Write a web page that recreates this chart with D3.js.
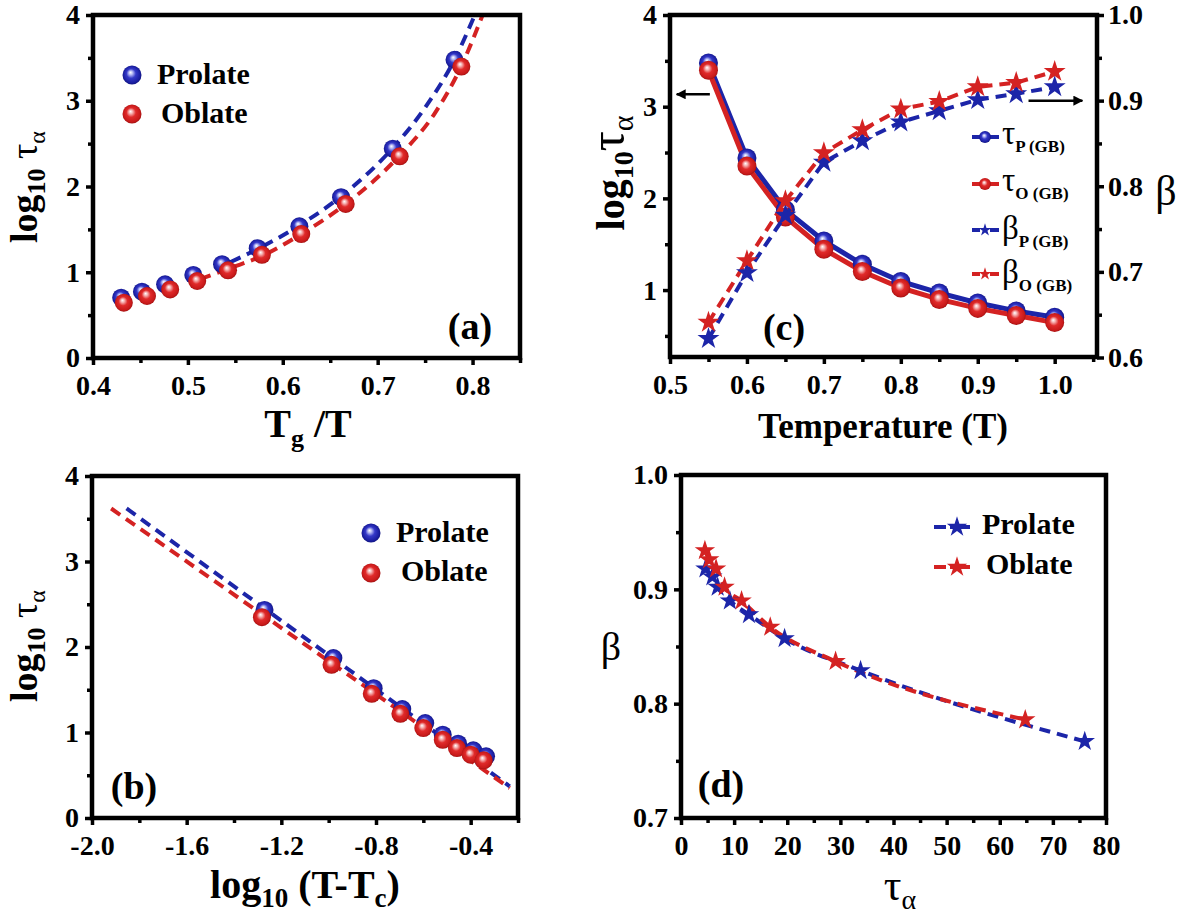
<!DOCTYPE html>
<html><head><meta charset="utf-8">
<script src="https://cdn.jsdelivr.net/npm/d3@7"></script>
<style>
body{margin:0;background:#fff}
text{font-family:"Liberation Serif","Times New Roman",serif;fill:#000}
</style>
</head><body>
<svg id="chart" width="1190" height="917"></svg>
<script>
// ---------------- DATA ----------------
// panel (a): log10 tau vs Tg/T
const tgT_P = [0.4297, 0.4516, 0.476, 0.5057, 0.536, 0.5736, 0.6175, 0.6614, 0.7159, 0.781];
const logTau_P = [0.703, 0.773, 0.859, 0.969, 1.094, 1.281, 1.535, 1.875, 2.441, 3.477];
const tgT_O = [0.4325, 0.4569, 0.4813, 0.5098, 0.5423, 0.578, 0.6195, 0.6663, 0.7232, 0.7882];
const logTau_O = [0.645, 0.723, 0.800, 0.898, 1.023, 1.203, 1.445, 1.797, 2.352, 3.398];
const fitA_P_x = [0.545, 0.575, 0.618, 0.662, 0.716, 0.75, 0.781, 0.8024];
const fitA_P_y = [1.12, 1.28, 1.55, 1.89, 2.45, 2.92, 3.48, 4.0];
const fitA_O_x = [0.513, 0.545, 0.58, 0.62, 0.667, 0.723, 0.76, 0.788, 0.8106];
const fitA_O_y = [0.92, 1.05, 1.20, 1.45, 1.80, 2.36, 2.85, 3.40, 4.0];

// panel (b): log10 tau vs log10(T-Tc)
const logTTc_P = [-1.271, -0.980, -0.810, -0.689, -0.592, -0.518, -0.453, -0.389, -0.335];
const logTauB_P = [2.434, 1.870, 1.519, 1.274, 1.110, 0.974, 0.869, 0.791, 0.721];
const logTTc_O = [-1.282, -0.988, -0.818, -0.697, -0.600, -0.518, -0.458, -0.400, -0.345];
const logTauB_O = [2.349, 1.792, 1.453, 1.219, 1.052, 0.915, 0.818, 0.740, 0.674];
const fitB_P_x = [-1.854, -0.235];
const fitB_P_y = [3.62, 0.37];
const fitB_O_x = [-1.919, -0.235];
const fitB_O_y = [3.62, 0.35];

// panel (c): tau and beta vs temperature
const temps = [0.55, 0.60, 0.65, 0.70, 0.75, 0.80, 0.85, 0.90, 0.95, 1.00];
const logTauC_P = [3.477, 2.441, 1.875, 1.535, 1.281, 1.094, 0.969, 0.859, 0.773, 0.703];
const logTauC_O = [3.398, 2.352, 1.797, 1.445, 1.203, 1.023, 0.898, 0.800, 0.723, 0.645];
const betaC_P = [0.622, 0.699, 0.766, 0.828, 0.853, 0.875, 0.888, 0.901, 0.908, 0.916];
const betaC_O = [0.641, 0.713, 0.783, 0.839, 0.866, 0.890, 0.899, 0.916, 0.921, 0.934];

// panel (d): beta vs tau
const tauD_P = [4.6, 5.9, 6.9, 9.2, 12.8, 19.5, 33.8, 76.0];
const betaD_P = [0.918, 0.911, 0.902, 0.890, 0.878, 0.857, 0.829, 0.767];
const tauD_O = [4.5, 5.3, 6.6, 8.2, 11.4, 16.8, 29.1, 64.8];
const betaD_O = [0.934, 0.926, 0.918, 0.902, 0.890, 0.867, 0.837, 0.786];

// tick values
const ticksA_x = [0.4, 0.5, 0.6, 0.7, 0.8], ticksA_xm = [0.45, 0.55, 0.65, 0.75, 0.85];
const ticksLog_y = [0, 1, 2, 3, 4], ticksLog_ym = [0.5, 1.5, 2.5, 3.5];
const ticksB_x = [-2.0, -1.6, -1.2, -0.8, -0.4], ticksB_xm = [-1.8, -1.4, -1.0, -0.6, -0.2];
const ticksC_x = [0.5, 0.6, 0.7, 0.8, 0.9, 1.0], ticksC_xm = [0.55, 0.65, 0.75, 0.85, 0.95, 1.05];
const ticksC_yl = [1, 2, 3, 4], ticksC_ylm = [0.5, 1.5, 2.5, 3.5];
const ticksC_yr = [0.6, 0.7, 0.8, 0.9, 1.0], ticksC_yrm = [0.65, 0.75, 0.85, 0.95];
const ticksD_x = [0, 10, 20, 30, 40, 50, 60, 70, 80], ticksD_xm = [5, 15, 25, 35, 45, 55, 65, 75];
const ticksD_y = [0.7, 0.8, 0.9, 1.0], ticksD_ym = [0.75, 0.85, 0.95];

// ---------------- STYLE ----------------
const BLUE = "#1c25a8", RED = "#d42222";
const svg = d3.select("#chart");
svg.append("rect").attr("width", 1190).attr("height", 917).attr("fill", "#fff");
const defs = svg.append("defs");

function sphereGrad(id, stops) {
  const g = defs.append("radialGradient").attr("id", id)
    .attr("cx", "0.5").attr("cy", "0.5").attr("r", "0.55").attr("fx", "0.42").attr("fy", "0.36");
  stops.forEach(s => g.append("stop").attr("offset", s[0]).attr("stop-color", s[1]));
}
sphereGrad("gB", [["0%", "#ffffff"], ["18%", "#b8bcf4"], ["45%", "#3438c8"], ["80%", "#1a1ea0"], ["100%", "#0d1070"]]);
sphereGrad("gR", [["0%", "#ffffff"], ["18%", "#f6b4b4"], ["45%", "#e02a2a"], ["80%", "#c81a1a"], ["100%", "#8c0c0c"]]);

defs.append("marker").attr("id", "arrow").attr("viewBox", "0 0 10 10").attr("refX", 9).attr("refY", 5)
  .attr("markerWidth", 4).attr("markerHeight", 4).attr("orient", "auto-start-reverse")
  .append("path").attr("d", "M0,0 L10,5 L0,10 Z").attr("fill", "#000");

const fmt1 = d => d.toFixed(1);
const fmt0 = d => String(d);
const B = sel => sel.style("font-weight", "bold");
const N = sel => sel.style("font-weight", "normal");

function styleAxis(sel) {
  sel.select(".domain").remove();
  sel.selectAll("line").attr("stroke", "#000").attr("stroke-width", 3.5);
  sel.selectAll("text").attr("font-size", 28).attr("font-family", "Liberation Serif")
    .style("font-weight", "bold").attr("fill", "#000");
}
function frame(p) {
  const g = svg.append("g");
  const x = d3.scaleLinear().domain(p.xd).range([p.l, p.r]);
  const y = d3.scaleLinear().domain(p.yd).range([p.b, p.t]);
  const clipId = "clip" + p.id;
  defs.append("clipPath").attr("id", clipId).append("rect")
    .attr("x", p.l).attr("y", p.t).attr("width", p.r - p.l).attr("height", p.b - p.t);
  g.append("g").attr("transform", `translate(0,${p.b})`)
    .call(d3.axisBottom(x).tickValues(p.xt).tickFormat(p.xf).tickSize(7).tickPadding(10)).call(styleAxis);
  g.append("g").attr("transform", `translate(0,${p.b})`)
    .call(d3.axisBottom(x).tickValues(p.xm).tickFormat("").tickSize(5)).call(styleAxis);
  g.append("g").attr("transform", `translate(${p.l},0)`)
    .call(d3.axisLeft(y).tickValues(p.yt).tickFormat(p.yf).tickSize(7).tickPadding(6)).call(styleAxis);
  g.append("g").attr("transform", `translate(${p.l},0)`)
    .call(d3.axisLeft(y).tickValues(p.ym).tickFormat("").tickSize(5)).call(styleAxis);
  return {g, x, y, clipId};
}
function drawBox(p) {
  svg.append("rect").attr("x", p.l).attr("y", p.t).attr("width", p.r - p.l).attr("height", p.b - p.t)
    .attr("fill", "none").attr("stroke", "#000").attr("stroke-width", 4.5);
}
function dashed(g, x, y, xs, ys, color, clipId, curve) {
  g.append("path").datum(xs.map((v, i) => [v, ys[i]]))
    .attr("clip-path", clipId ? `url(#${clipId})` : null)
    .attr("d", d3.line().x(d => x(d[0])).y(d => y(d[1])).curve(curve || d3.curveLinear))
    .attr("fill", "none").attr("stroke", color).attr("stroke-width", 4).attr("stroke-dasharray", "11,7");
}
function spheres(g, x, y, xs, ys, grad, r) {
  g.selectAll(null).data(xs.map((v, i) => [v, ys[i]])).enter().append("circle")
    .attr("cx", d => x(d[0])).attr("cy", d => y(d[1])).attr("r", r).attr("fill", `url(#${grad})`);
}
function stars(g, x, y, xs, ys, color, size) {
  g.selectAll(null).data(xs.map((v, i) => [v, ys[i]])).enter().append("path")
    .attr("transform", d => `translate(${x(d[0])},${y(d[1])})`)
    .attr("d", d3.symbol().type(d3.symbolStar).size(size)()).attr("fill", color);
}
function rich(parent, x, y, parts, opts) {
  opts = opts || {};
  const t = parent.append("text").attr("x", x).attr("y", y)
    .attr("text-anchor", opts.anchor || "start");
  if (opts.rotate) t.attr("transform", `rotate(-90,${x},${y})`);
  parts.forEach(p => {
    const ts = t.append("tspan").attr("font-size", p.s).text(p.t)
      .style("font-weight", p.bold === false ? "normal" : "bold");
    if (p.dy) ts.attr("dy", p.dy);
  });
  return t;
}
function label(parent, x, y, txt, size, anchor, weight) {
  return parent.append("text").attr("x", x).attr("y", y).attr("font-size", size)
    .attr("text-anchor", anchor || "start").style("font-weight", weight || "bold").text(txt);
}

// ---------------- PANEL (a) ----------------
const pA = {id: "a", l: 93, r: 520, t: 15, b: 358, xd: [0.4, 0.85], yd: [0, 4],
  xt: ticksA_x, xm: ticksA_xm, yt: ticksLog_y, ym: ticksLog_ym, xf: fmt1, yf: fmt0};
{
  const {g, x, y, clipId} = frame(pA);
  dashed(g, x, y, fitA_P_x, fitA_P_y, BLUE, clipId, d3.curveMonotoneX);
  dashed(g, x, y, fitA_O_x, fitA_O_y, RED, clipId, d3.curveMonotoneX);
  spheres(g, x, y, tgT_P, logTau_P, "gB", 9);
  spheres(g, x, y, tgT_O, logTau_O, "gR", 9);
  drawBox(pA);
  g.append("circle").attr("cx", 132).attr("cy", 75).attr("r", 9.5).attr("fill", "url(#gB)");
  g.append("circle").attr("cx", 132).attr("cy", 114).attr("r", 9.5).attr("fill", "url(#gR)");
  label(g, 157, 84, "Prolate", 30);
  label(g, 161, 123, "Oblate", 30);
  label(g, 470, 339, "(a)", 38, "middle");
  rich(svg, 308, 437, [{t: "T", s: 40}, {t: "g", s: 26, dy: 10}, {t: " /T", s: 40, dy: -10}], {anchor: "middle"});
  rich(svg, 37, 187, [{t: "log", s: 38}, {t: "10", s: 26, dy: 8}, {t: " τ", s: 38, dy: -8, bold: false}, {t: "α", s: 24, dy: 8, bold: false}], {anchor: "middle", rotate: true});
}

// ---------------- PANEL (b) ----------------
const pB = {id: "b", l: 92, r: 518, t: 476, b: 818, xd: [-2.0, -0.2], yd: [0, 4],
  xt: ticksB_x, xm: ticksB_xm, yt: ticksLog_y, ym: ticksLog_ym, xf: fmt1, yf: fmt0};
{
  const {g, x, y, clipId} = frame(pB);
  dashed(g, x, y, fitB_P_x, fitB_P_y, BLUE, clipId);
  dashed(g, x, y, fitB_O_x, fitB_O_y, RED, clipId);
  spheres(g, x, y, logTTc_P, logTauB_P, "gB", 9);
  spheres(g, x, y, logTTc_O, logTauB_O, "gR", 9);
  drawBox(pB);
  g.append("circle").attr("cx", 371).attr("cy", 533).attr("r", 9.5).attr("fill", "url(#gB)");
  g.append("circle").attr("cx", 371).attr("cy", 573).attr("r", 9.5).attr("fill", "url(#gR)");
  label(g, 396, 542, "Prolate", 30);
  label(g, 401, 581, "Oblate", 30);
  label(g, 134, 799, "(b)", 38, "middle");
  rich(svg, 305, 898, [{t: "log", s: 40}, {t: "10", s: 27, dy: 9}, {t: " (T-T", s: 40, dy: -9}, {t: "c", s: 27, dy: 9}, {t: ")", s: 40, dy: -9}], {anchor: "middle"});
  rich(svg, 37, 646, [{t: "log", s: 38}, {t: "10", s: 26, dy: 8}, {t: " τ", s: 38, dy: -8, bold: false}, {t: "α", s: 24, dy: 8, bold: false}], {anchor: "middle", rotate: true});
}

// ---------------- PANEL (c) ----------------
const pC = {id: "c", l: 670, r: 1097, t: 15, b: 357, xd: [0.5, 1.055], yd: [0.27, 4],
  xt: ticksC_x, xm: ticksC_xm, yt: ticksC_yl, ym: ticksC_ylm, xf: fmt1, yf: fmt0};
{
  const {g, x, y} = frame(pC);
  const y2 = d3.scaleLinear().domain([0.6, 1.0]).range([357.5, 15]);
  g.append("g").attr("transform", `translate(${pC.r},0)`)
    .call(d3.axisRight(y2).tickValues(ticksC_yr).tickFormat(fmt1).tickSize(7).tickPadding(4)).call(styleAxis);
  g.append("g").attr("transform", `translate(${pC.r},0)`)
    .call(d3.axisRight(y2).tickValues(ticksC_yrm).tickFormat("").tickSize(5)).call(styleAxis);

  const line1 = d3.line().x(d => x(d[0])).y(d => y(d[1]));
  const line2 = d3.line().x(d => x(d[0])).y(d => y2(d[1]));
  const zip = (a, b) => a.map((v, i) => [v, b[i]]);
  g.append("path").datum(zip(temps, logTauC_P)).attr("d", line1).attr("fill", "none").attr("stroke", BLUE).attr("stroke-width", 5);
  g.append("path").datum(zip(temps, logTauC_O)).attr("d", line1).attr("fill", "none").attr("stroke", RED).attr("stroke-width", 5);
  spheres(g, x, y, temps, logTauC_P, "gB", 9.5);
  spheres(g, x, y, temps, logTauC_O, "gR", 9.5);
  g.append("path").datum(zip(temps, betaC_P)).attr("d", line2).attr("fill", "none").attr("stroke", BLUE).attr("stroke-width", 4).attr("stroke-dasharray", "11,7");
  g.append("path").datum(zip(temps, betaC_O)).attr("d", line2).attr("fill", "none").attr("stroke", RED).attr("stroke-width", 4).attr("stroke-dasharray", "11,7");
  stars(g, x, y2, temps, betaC_P, BLUE, 150);
  stars(g, x, y2, temps, betaC_O, RED, 150);
  drawBox(pC);
  // arrows
  g.append("line").attr("x1", x(0.5518)).attr("y1", y(3.135)).attr("x2", x(0.5087)).attr("y2", y(3.135))
    .attr("stroke", "#000").attr("stroke-width", 2.5).attr("marker-end", "url(#arrow)");
  g.append("line").attr("x1", x(0.966)).attr("y1", y2(0.9)).attr("x2", x(1.036)).attr("y2", y2(0.9))
    .attr("stroke", "#000").attr("stroke-width", 2.5).attr("marker-end", "url(#arrow)");
  // legend
  const rows = [
    {y: 137, c: BLUE, m: "s", g: "gB", sym: "τ", sub: "P (GB)"},
    {y: 184, c: RED, m: "s", g: "gR", sym: "τ", sub: "O (GB)"},
    {y: 230, c: BLUE, m: "*", sym: "β", sub: "P (GB)"},
    {y: 274, c: RED, m: "*", sym: "β", sub: "O (GB)"}
  ];
  rows.forEach(rw => {
    g.append("line").attr("x1", 972).attr("x2", 980).attr("y1", rw.y).attr("y2", rw.y).attr("stroke", rw.c).attr("stroke-width", 4);
    g.append("line").attr("x1", 990).attr("x2", 999).attr("y1", rw.y).attr("y2", rw.y).attr("stroke", rw.c).attr("stroke-width", 4);
    if (rw.m === "s") g.append("circle").attr("cx", 985).attr("cy", rw.y).attr("r", 6).attr("fill", `url(#${rw.g})`);
    else g.append("path").attr("transform", `translate(985,${rw.y})`).attr("d", d3.symbol().type(d3.symbolStar).size(50)()).attr("fill", rw.c);
    const t = g.append("text").attr("x", 1002).attr("y", rw.y + (rw.sym === "τ" ? 7 : 9));
    t.append("tspan").attr("font-size", 33).style("font-weight", "normal").text(rw.sym);
    t.append("tspan").attr("font-size", 17).attr("dy", 8).style("font-weight", "bold").text(rw.sub);
  });
  label(g, 784, 340, "(c)", 38, "middle");
  label(svg, 883, 438, "Temperature (T)", 35, "middle");
  label(svg, 1166, 205, "β", 42, "middle", "normal");
  rich(svg, 624, 173, [{t: "log", s: 40}, {t: "10", s: 28, dy: 9}, {t: "τ", s: 50, dy: -9, bold: false}, {t: "α", s: 30, dy: 9, bold: false}], {anchor: "middle", rotate: true});
}

// ---------------- PANEL (d) ----------------
const pD = {id: "d", l: 681, r: 1106, t: 475, b: 818, xd: [0, 80], yd: [0.7, 1.0],
  xt: ticksD_x, xm: ticksD_xm, yt: ticksD_y, ym: ticksD_ym, xf: fmt0, yf: fmt1};
{
  const {g, x, y, clipId} = frame(pD);
  dashed(g, x, y, tauD_P, betaD_P, BLUE, clipId, d3.curveMonotoneX);
  dashed(g, x, y, tauD_O, betaD_O, RED, clipId, d3.curveMonotoneX);
  stars(g, x, y, tauD_P, betaD_P, BLUE, 130);
  stars(g, x, y, tauD_O, betaD_O, RED, 130);
  drawBox(pD);
  [[527, BLUE, "Prolate", 982], [567, RED, "Oblate", 986]].forEach(([yy, c, lab, tx]) => {
    g.append("line").attr("x1", 934).attr("x2", 946).attr("y1", yy).attr("y2", yy).attr("stroke", c).attr("stroke-width", 4);
    g.append("line").attr("x1", 950).attr("x2", 970).attr("y1", yy).attr("y2", yy).attr("stroke", c).attr("stroke-width", 4);
    g.append("path").attr("transform", `translate(957,${yy})`).attr("d", d3.symbol().type(d3.symbolStar).size(130)()).attr("fill", c);
    label(g, tx, yy + 7, lab, 30);
  });
  label(g, 721, 797, "(d)", 38, "middle");
  rich(svg, 900, 900, [{t: "τ", s: 44, bold: false}, {t: "α", s: 28, dy: 9, bold: false}], {anchor: "middle"});
  label(svg, 611, 660, "β", 40, "middle", "normal");
}
</script>
</body></html>
